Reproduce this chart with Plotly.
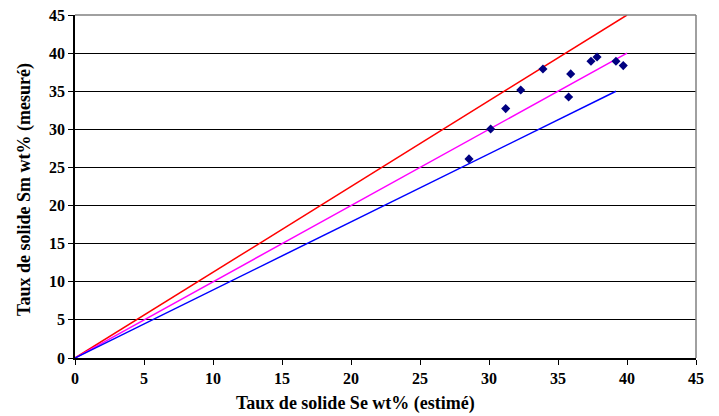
import plotly.graph_objects as go

# Measured points
se_estime = [28.55, 30.12, 31.21, 32.30, 33.91, 35.77, 35.92, 37.39, 37.83, 39.20, 39.73]
sm_mesure = [26.12, 30.05, 32.72, 35.17, 37.92, 34.25, 37.27, 38.93, 39.49, 38.93, 38.36]

# Reference lines
red_x = [0, 40]
red_y = [0, 45]
mag_x = [0, 40]
mag_y = [0, 40]
blue_x = [0, 39.2]
blue_y = [0, 35]

tick_vals = [0, 5, 10, 15, 20, 25, 30, 35, 40, 45]

x_title = "Taux de solide Se wt% (estimé)"
y_title = "Taux de solide Sm wt% (mesuré)"

fig = go.Figure()
fig.add_trace(go.Scatter(x=red_x, y=red_y, mode="lines", line=dict(color="#FF0000", width=1.5)))
fig.add_trace(go.Scatter(x=mag_x, y=mag_y, mode="lines", line=dict(color="#FF00FF", width=1.5)))
fig.add_trace(go.Scatter(x=blue_x, y=blue_y, mode="lines", line=dict(color="#0000FF", width=1.5)))
fig.add_trace(go.Scatter(x=se_estime, y=sm_mesure, mode="markers",
                         marker=dict(symbol="diamond", size=7, color="#000080")))

font_family = "Liberation Serif"
title_font = dict(size=18, weight="bold", family=font_family, color="black")
fig.update_layout(
    width=711, height=408,
    margin=dict(l=67, r=23, t=7, b=58, autoexpand=False),
    paper_bgcolor="white", plot_bgcolor="white",
    showlegend=False,
    font=dict(family=font_family, color="black"),
    xaxis=dict(range=[0, 45], tickvals=tick_vals, showgrid=False, zeroline=False,
               showline=True, linecolor="black", linewidth=1.5, automargin=False,
               ticks="outside", ticklen=5, tickcolor="black", ticklabeloverflow="allow",
               tickfont=dict(size=16, weight="bold", family=font_family)),
    yaxis=dict(range=[0, 45], tickvals=tick_vals, showgrid=True, gridcolor="black", gridwidth=1,
               zeroline=False, showline=True, linecolor="black", linewidth=1.5, automargin=False,
               ticks="outside", ticklen=5, tickcolor="black", ticklabeloverflow="allow",
               tickfont=dict(size=16, weight="bold", family=font_family)),
    annotations=[
        dict(text=x_title, xref="paper", yref="paper", x=0.451, y=0,
             xanchor="center", yanchor="middle", yshift=-45, showarrow=False, font=title_font),
        dict(text=y_title, xref="paper", yref="paper", x=-0.0805, y=0.49,
             xanchor="center", yanchor="middle", textangle=-90, showarrow=False, font=title_font),
    ],
    shapes=[
        dict(type="line", xref="paper", yref="paper", x0=0, x1=1, y0=1, y1=1,
             line=dict(color="#808080", width=1.5), layer="above"),
        dict(type="line", xref="paper", yref="paper", x0=1, x1=1, y0=0, y1=1,
             line=dict(color="#808080", width=1.5), layer="above"),
    ],
)

fig.write_html("out.html")
